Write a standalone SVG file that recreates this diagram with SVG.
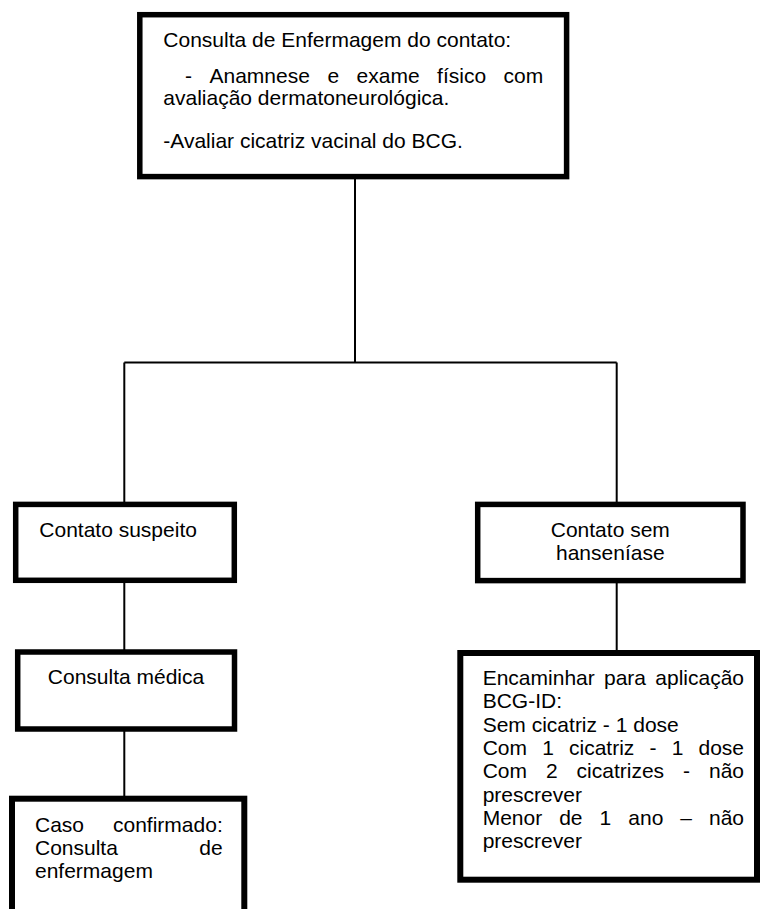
<svg xmlns="http://www.w3.org/2000/svg" width="760" height="909" viewBox="0 0 760 909">
  <style>
    .box { fill: #ffffff; stroke: #000000; stroke-width: 5.5; }
    .wire { fill: none; stroke: #000000; stroke-width: 2; }
    text { font-family: "Liberation Sans", Arial, sans-serif; font-size: 21px; fill: #000000; }
    .mid { text-anchor: middle; }
  </style>
  <rect width="760" height="909" fill="#ffffff"/>

  <!-- connectors -->
  <g id="connectors">
    <path class="wire" d="M355 179 V362.5"/>
    <path class="wire" d="M124.3 362.5 H616.7"/>
    <path class="wire" d="M124.3 362.5 V502"/>
    <path class="wire" d="M616.7 362.5 V502"/>
    <path class="wire" d="M124.3 583 V650"/>
    <path class="wire" d="M616.7 583 V650"/>
    <path class="wire" d="M124.3 731 V796"/>
  </g>

  <!-- nursing consultation -->
  <g id="consulta-enfermagem">
    <rect class="box" x="139.8" y="14.7" width="426.8" height="161.9"/>
    <text x="163.3" y="47">Consulta de Enfermagem do contato:</text>
    <text y="83"><tspan x="185">-</tspan><tspan x="209.5">Anamnese</tspan><tspan x="327.4">e</tspan><tspan x="356.6">exame</tspan><tspan x="437.1">físico</tspan><tspan x="503.6">com</tspan></text>
    <text x="163.3" y="105">avaliação dermatoneurológica.</text>
    <text x="163.3" y="148">-Avaliar cicatriz vacinal do BCG.</text>
  </g>

  <!-- suspect contact -->
  <g id="contato-suspeito">
    <rect class="box" x="15.7" y="504.4" width="218.6" height="75.9"/>
    <text x="39.3" y="537">Contato suspeito</text>
  </g>

  <!-- contact without leprosy -->
  <g id="contato-sem-hanseniase">
    <rect class="box" x="477.7" y="504.4" width="265.3" height="76.2"/>
    <text class="mid" x="610.3" y="537">Contato sem</text>
    <text class="mid" x="610.3" y="560.3">hanseníase</text>
  </g>

  <!-- medical consultation -->
  <g id="consulta-medica">
    <rect class="box" x="17.7" y="652" width="216.8" height="77"/>
    <text class="mid" x="126" y="684">Consulta médica</text>
  </g>

  <!-- confirmed case -->
  <g id="caso-confirmado">
    <rect class="box" x="12" y="798.7" width="232.3" height="140" style="stroke-width:6"/>
    <text y="831.7"><tspan x="35">Caso</tspan><tspan x="113">confirmado:</tspan></text>
    <text y="855"><tspan x="35">Consulta</tspan><tspan x="199.3">de</tspan></text>
    <text x="35" y="878.3">enfermagem</text>
  </g>

  <!-- BCG-ID referral -->
  <g id="encaminhar-bcg">
    <rect class="box" x="460.3" y="653" width="296.7" height="226.7" style="stroke-width:6"/>
    <text y="685"><tspan x="482.7">Encaminhar</tspan><tspan x="604">para</tspan><tspan x="655.3">aplicação</tspan></text>
    <text x="482.7" y="708.3">BCG-ID:</text>
    <text x="482.7" y="731.6">Sem cicatriz - 1 dose</text>
    <text y="754.9"><tspan x="482.7">Com</tspan><tspan x="542.2">1</tspan><tspan x="569">cicatriz</tspan><tspan x="649.5">-</tspan><tspan x="671.7">1</tspan><tspan x="698.5">dose</tspan></text>
    <text y="778.2"><tspan x="482.7">Com</tspan><tspan x="546">2</tspan><tspan x="576.6">cicatrizes</tspan><tspan x="683">-</tspan><tspan x="709">não</tspan></text>
    <text x="482.7" y="801.5">prescrever</text>
    <text y="824.8"><tspan x="482.7">Menor</tspan><tspan x="559.2">de</tspan><tspan x="599.6">1</tspan><tspan x="628.3">ano</tspan><tspan x="680.3">–</tspan><tspan x="709">não</tspan></text>
    <text x="482.7" y="848.1">prescrever</text>
  </g>
</svg>
